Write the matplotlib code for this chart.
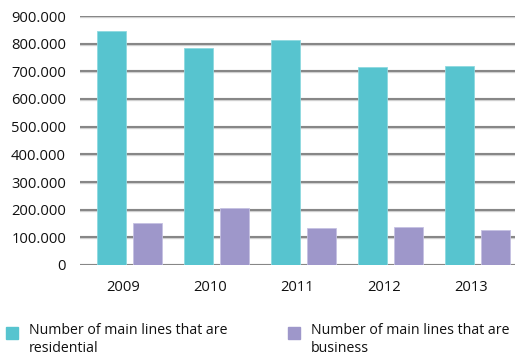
import matplotlib
matplotlib.use("Agg")
import matplotlib.pyplot as plt
from matplotlib.patches import Rectangle
import numpy as np

years = ["2009", "2010", "2011", "2012", "2013"]
residential = [845000, 784000, 812000, 717000, 720000]
business = [152000, 206000, 134000, 137000, 126000]
yticks = [0, 100000, 200000, 300000, 400000, 500000, 600000, 700000, 800000, 900000]
ytick_labels = ["0", "100.000", "200.000", "300.000", "400.000", "500.000",
                "600.000", "700.000", "800.000", "900.000"]
legend_labels = ["Number of main lines that are\nresidential",
                 "Number of main lines that are\nbusiness"]

teal = "#57C4CF"
purple = "#9E97CA"
FONT = "Open Sans"
FS = 10.6
LFS = 10.2
TC = "#111111"

W, H = 517, 359
fig = plt.figure(figsize=(W / 100, H / 100), dpi=100)
ax = fig.add_axes([80 / W, 1 - 265 / H, 435 / W, 249 / H])

x = np.arange(len(years))
bw = 0.333
ax.bar(x - 0.138, residential, width=bw, color=teal, edgecolor="#8ED9E0",
       linewidth=0.6, zorder=3)
ax.bar(x + 0.276, business, width=bw, color=purple, edgecolor="#C5C1E2",
       linewidth=0.6, zorder=3)

for t in yticks:
    ax.axhline(t, color="#D0D0D0", linewidth=2.4, zorder=1)
    ax.axhline(t, color="#858585", linewidth=1.4, zorder=2)

ax.set_xlim(-0.5, len(years) - 0.5)
ax.set_ylim(0, 900000)
ax.set_yticks(yticks)
ax.set_yticklabels(ytick_labels, fontsize=FS, family=FONT, color=TC)
ax.set_xticks(x)
ax.set_xticklabels(years, fontsize=FS, family=FONT, color=TC)
ax.tick_params(axis="y", length=0, pad=10)
ax.tick_params(axis="x", length=0, pad=11)
for s in ax.spines.values():
    s.set_visible(False)

# legend
for (sx, tx, col, lab) in [(6, 29, teal, legend_labels[0]),
                           (288, 311, purple, legend_labels[1])]:
    fig.patches.append(Rectangle((sx / W, 1 - 339 / H), 12 / W, 12 / H,
                                 transform=fig.transFigure, color=col))
    fig.text(tx / W, 1 - 323 / H, lab, fontsize=LFS, family=FONT,
             color=TC, va="top", ha="left", linespacing=1.3)

fig.savefig("out.png", dpi=100)
